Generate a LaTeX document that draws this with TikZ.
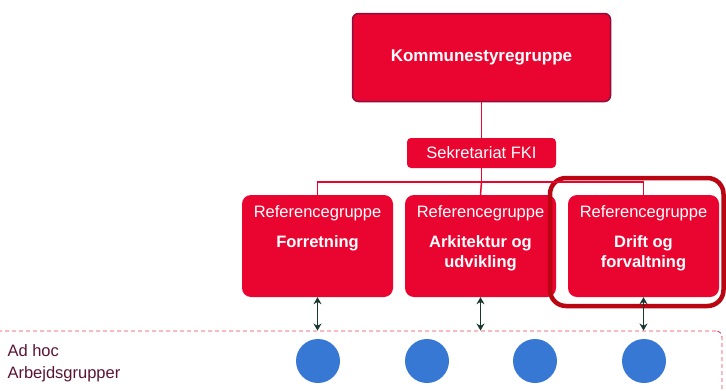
\documentclass[tikz,border=0pt]{standalone}
\usepackage{fontspec}
\setmainfont{Liberation Sans}
\usetikzlibrary{arrows.meta,positioning}
\definecolor{kRed}{RGB}{234,4,48}
\definecolor{kRim}{RGB}{140,14,60}
\definecolor{kMark}{RGB}{185,6,18}
\definecolor{kGreen}{RGB}{25,55,45}
\definecolor{kBlue}{RGB}{55,120,212}
\definecolor{kPlum}{RGB}{90,20,50}
\definecolor{kDash}{RGB}{236,60,90}
\tikzset{
    >={Stealth[length=7pt,width=8pt]},
    redbox/.style={rectangle,fill=kRed,rounded corners=#1,inner sep=0pt},
    reftitle/.style={text=white,font=\fontsize{16.5}{20}\selectfont},
    refname/.style={text=white,align=center,font=\fontsize{16.5}{20}\selectfont\bfseries},
    wire/.style={draw=kRed,line width=1.5pt},
    link/.style={<->,draw=kGreen,fill=kGreen,line width=1.8pt},
    blob/.style={circle,fill=kBlue,minimum size=44pt,inner sep=0pt}
}

\begin{document}
\begin{tikzpicture}[x=1pt,y=-1pt]
  \useasboundingbox (0,0) rectangle (726,391);

  % top level
  \node[redbox=6pt,draw=kRim,line width=1.5pt,minimum width=258pt,minimum height=88pt] (kst) at (481.5,57.5) {};
  \node[text=white,font=\fontsize{17}{20}\selectfont\bfseries] at (kst) {Kommunestyregruppe};
  \node[redbox=4pt,minimum width=149pt,minimum height=30pt,reftitle] (sek) at (481.5,153) {Sekretariat FKI};

  % reference groups
  \node[redbox=9pt,minimum width=151pt,minimum height=102pt] (ref1) at (317.5,246) {};
  \node[redbox=9pt,minimum width=151pt,minimum height=102pt] (ref2) at (480.5,246) {};
  \node[redbox=9pt,minimum width=151pt,minimum height=102pt] (ref3) at (643.5,246) {};
  \draw[kMark,line width=4.5pt,rounded corners=16pt] (550,178) rectangle (723.5,306);

  \node[reftitle] at (317.5,213) {Referencegruppe};
  \node[reftitle] at (480.5,213) {Referencegruppe};
  \node[reftitle] at (643.5,213) {Referencegruppe};
  \node[refname,anchor=north] at (317.5,232) {Forretning};
  \node[refname,anchor=north] at (480.5,232) {Arkitektur og\\udvikling};
  \node[refname,anchor=north] at (643.5,232) {Drift og\\forvaltning};

  % wiring
  \coordinate (bus) at (481.5,182);
  \draw[wire] (kst) -- (sek);
  \draw[wire] (sek) -- (bus);
  \draw[wire] (ref1.north) |- (bus) -| (ref3.north);
  \draw[wire] (bus) -- (ref2.north);

  % ad hoc groups
  \node[draw=kDash,dash pattern=on 4pt off 3pt,line width=0.9pt,rounded corners=6pt,minimum width=736pt,minimum height=70pt,inner sep=0pt] (adhoc) at (354,366) {};
  \node[anchor=north west,align=left,text=kPlum,font=\fontsize{16.5}{22}\selectfont] (lbl) at (4,341) {Ad hoc\\Arbejdsgrupper};
  \foreach \gx [count=\i] in {318,427,535,644}
    \node[blob] (wg\i) at (\gx,361) {};

  \draw[link] (ref1.south) -- (ref1.south |- adhoc.north);
  \draw[link] (ref2.south) -- (ref2.south |- adhoc.north);
  \draw[link] (ref3.south) -- (ref3.south |- adhoc.north);
\end{tikzpicture}
\end{document}
